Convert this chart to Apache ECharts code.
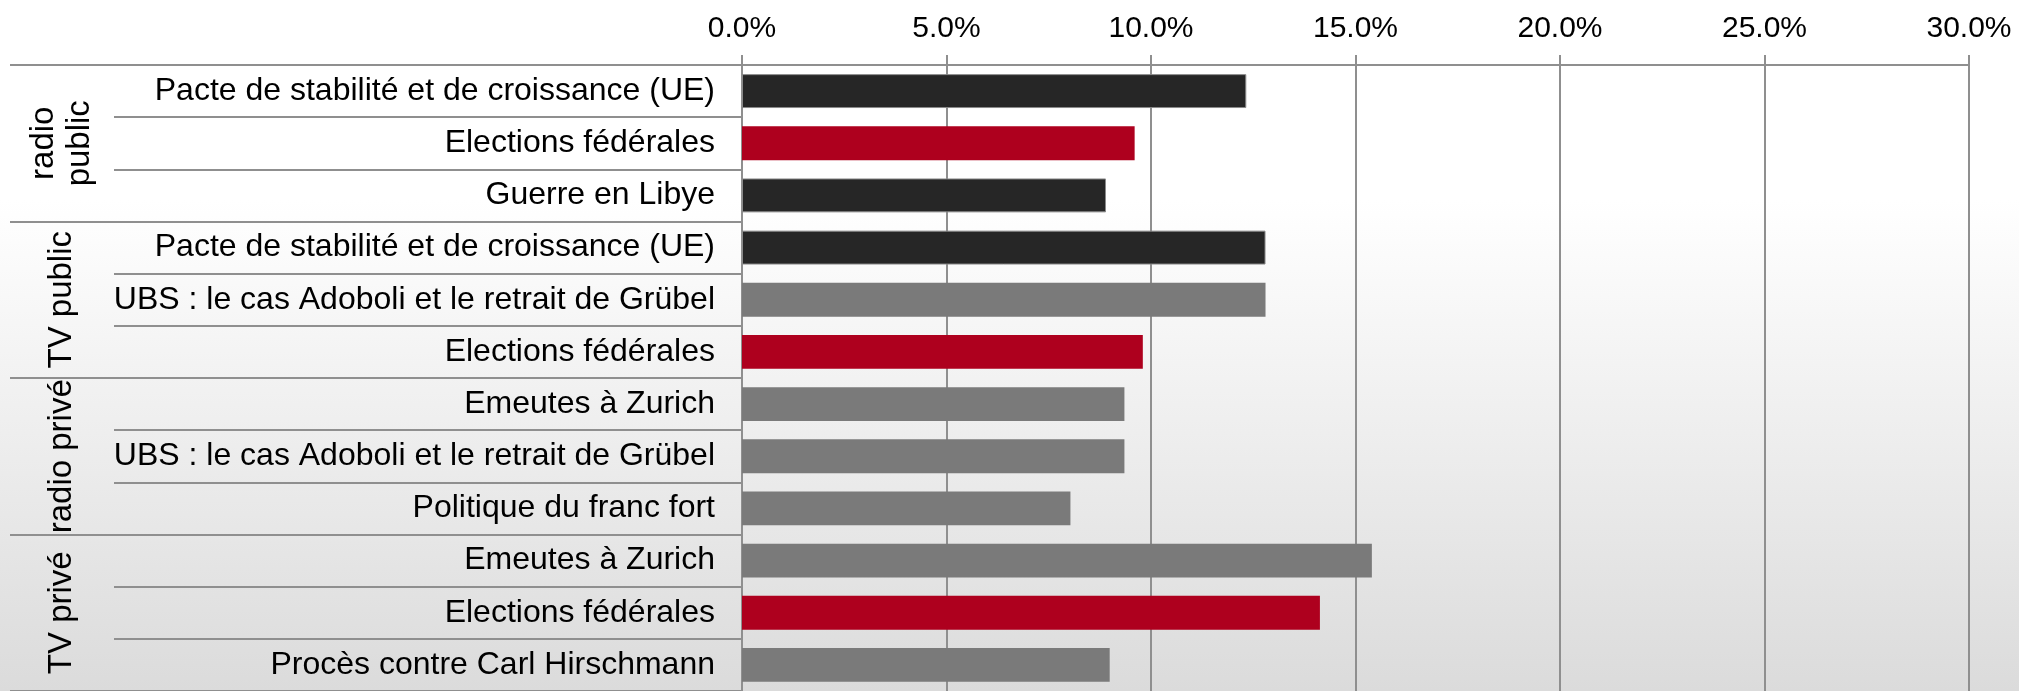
<!DOCTYPE html>
<html>
<head>
<meta charset="utf-8">
<script src="https://cdn.jsdelivr.net/npm/echarts@6/dist/echarts.min.js"></script>
<style>
  html, body { margin: 0; padding: 0; background: #fff; }
  #chart { width: 2019px; height: 691px; }
</style>
</head>
<body>
<div id="chart"></div>
<script>
// Media groups (outer level of the category axis), three topics each
const groups = ['radio\npublic', 'TV public', 'radio privé', 'TV privé'];

// Topics (inner level of the category axis), top to bottom
const topics = [
  'Pacte de stabilité et de croissance (UE)',
  'Elections fédérales',
  'Guerre en Libye',
  'Pacte de stabilité et de croissance (UE)',
  'UBS : le cas Adoboli et le retrait de Grübel',
  'Elections fédérales',
  'Emeutes à Zurich',
  'UBS : le cas Adoboli et le retrait de Grübel',
  'Politique du franc fort',
  'Emeutes à Zurich',
  'Elections fédérales',
  'Procès contre Carl Hirschmann'
];

// Share of coverage, in percent
const shares = [12.33, 9.6, 8.9, 12.8, 12.8, 9.8, 9.35, 9.35, 8.03, 15.4, 14.13, 8.99];

// Value axis range and step
const axisMin = 0;
const axisMax = 30;
const axisStep = 5;

// Bar colours per topic; anything not listed is drawn in grey
const DARK = '#262626';
const RED = '#ae001e';
const GREY = '#7a7a7a';
const topicColours = {
  'Pacte de stabilité et de croissance (UE)': DARK,
  'Guerre en Libye': DARK,
  'Elections fédérales': RED
};

const LINE = '#8f8f8f';
const FONT = '"Liberation Sans", Arial, sans-serif';

const chart = echarts.init(document.getElementById('chart'), null, { renderer: 'canvas' });

const barData = shares.map((v, i) => {
  const c = topicColours[topics[i]] || GREY;
  return {
    value: v,
    itemStyle: c === DARK
      ? { color: c, borderColor: '#8a8a8a', borderWidth: 1 }
      : { color: c }
  };
});

chart.setOption({
  animation: false,
  backgroundColor: new echarts.graphic.LinearGradient(0, 0, 0, 1, [
    { offset: 0, color: '#ffffff' },
    { offset: 0.29, color: '#ffffff' },
    { offset: 1, color: '#dbdbdb' }
  ]),
  textStyle: { fontFamily: FONT },
  grid: { left: 742, right: 50, top: 65, bottom: -4 },
  xAxis: {
    type: 'value',
    position: 'top',
    min: axisMin,
    max: axisMax,
    interval: axisStep,
    axisLine: { show: true, lineStyle: { color: LINE, width: 2 } },
    axisTick: { show: true, length: 10, lineStyle: { color: LINE, width: 2 } },
    splitLine: { show: true, lineStyle: { color: LINE, width: 2 } },
    axisLabel: {
      margin: 21,
      fontSize: 30,
      color: '#000',
      fontFamily: FONT,
      formatter: v => v.toFixed(1) + '%'
    }
  },
  yAxis: [
    {
      type: 'category',
      inverse: true,
      data: topics,
      position: 'left',
      axisLine: { show: true, lineStyle: { color: LINE, width: 2 } },
      axisTick: { show: true, interval: 0, length: 628, lineStyle: { color: LINE, width: 2 } },
      axisLabel: {
        interval: 0,
        hideOverlap: false,
        margin: 27,
        fontSize: 32,
        padding: [3, 0, 0, 0],
        color: '#000',
        fontFamily: FONT
      },
      z: 3
    },
    {
      type: 'category',
      inverse: true,
      data: groups,
      position: 'left',
      axisLine: { show: false },
      axisTick: { show: true, interval: 0, length: 732, lineStyle: { color: LINE, width: 2 } },
      axisLabel: {
        interval: 0,
        hideOverlap: false,
        margin: 680,
        rotate: 90,
        align: 'center',
        verticalAlign: 'middle',
        fontSize: 33,
        lineHeight: 36,
        color: '#000',
        fontFamily: FONT
      },
      z: 3
    }
  ],
  series: [
    {
      type: 'bar',
      yAxisIndex: 0,
      data: barData,
      barCategoryGap: '35%',
      z: 4
    }
  ]
});
</script>
</body>
</html>
